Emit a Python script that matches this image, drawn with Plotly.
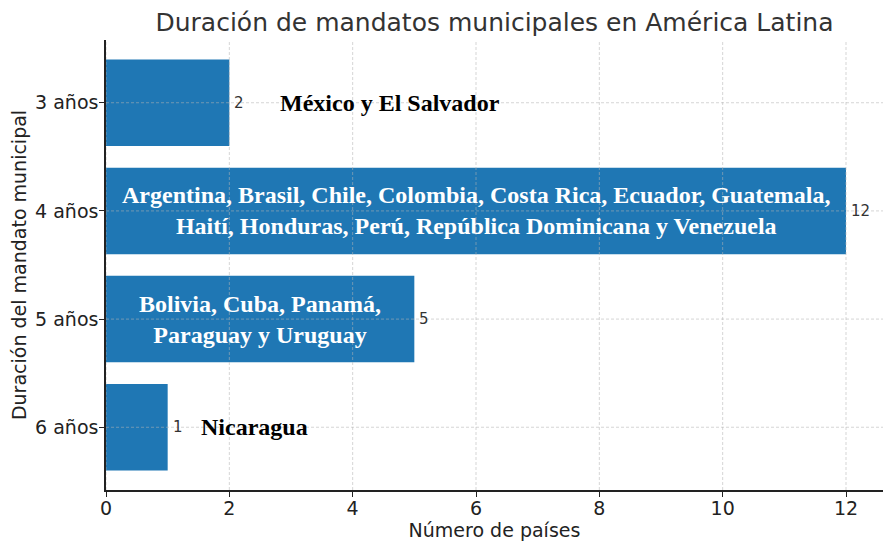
import plotly.graph_objects as go

# Datos: duración del mandato y número de países
duraciones = ['3 años', '4 años', '5 años', '6 años']
num_paises = [2, 12, 5, 1]
paises = [
    'México y El Salvador',
    'Argentina, Brasil, Chile, Colombia, Costa Rica, Ecuador, Guatemala,<br>'
    'Haití, Honduras, Perú, República Dominicana y Venezuela',
    'Bolivia, Cuba, Panamá,<br>Paraguay y Uruguay',
    'Nicaragua',
]
texto_dentro = [False, True, True, False]
pos_texto_fuera = [4.6, None, None, 2.4]  # centro del texto fuera de la barra
x_ticks = [0, 2, 4, 6, 8, 10, 12]

azul = '#1f77b4'
fuente_ejes = 'DejaVu Sans'
fuente_paises = 'Liberation Serif'

fig = go.Figure()
fig.add_trace(go.Bar(
    y=duraciones,
    x=num_paises,
    orientation='h',
    width=0.8,
    marker=dict(color=azul, line=dict(width=0)),
    hoverinfo='x+y',
))

annotations = []
for dur, n, txt, dentro, xpos in zip(duraciones, num_paises, paises, texto_dentro, pos_texto_fuera):
    # número al final de la barra
    annotations.append(dict(
        x=n, y=dur, text=str(n), showarrow=False, xanchor='left', yanchor='middle',
        xshift=3, font=dict(family=fuente_ejes, size=15, color='#333333'),
    ))
    if dentro:
        annotations.append(dict(
            x=n / 2, y=dur, text=f'<b>{txt}</b>', showarrow=False,
            xanchor='center', yanchor='middle',
            font=dict(family=fuente_paises, size=24, color='white'),
        ))
    else:
        annotations.append(dict(
            x=xpos, y=dur, text=f'<b>{txt}</b>', showarrow=False,
            xanchor='center', yanchor='middle',
            font=dict(family=fuente_paises, size=24, color='black'),
        ))

# cuadrícula discontinua por encima de las barras (como en matplotlib)
grid = dict(color='rgba(180,180,180,0.55)', width=1, dash='3px,2px')
shapes = []
for t in x_ticks:
    shapes.append(dict(type='line', xref='x', yref='paper', x0=t, x1=t, y0=0, y1=1,
                       line=grid, layer='above'))
for dur in duraciones:
    shapes.append(dict(type='line', xref='paper', yref='y', x0=0, x1=1, y0=dur, y1=dur,
                       line=grid, layer='above'))

# la página deja 8px de margen en el body
fig.update_layout(
    width=886,
    height=543,
    plot_bgcolor='white',
    paper_bgcolor='white',
    margin=dict(l=98, r=11, t=32, b=61),
    showlegend=False,
    title=dict(
        text='Duración de mandatos municipales en América Latina',
        xref='paper', x=0.5, xanchor='center', y=0.974, yanchor='middle',
        font=dict(family=fuente_ejes, size=25, color='#333333'),
    ),
    font=dict(family=fuente_ejes, color='#222222'),
    annotations=annotations,
    shapes=shapes,
    bargap=0.2,
)

fig.update_xaxes(
    range=[0, 12.6],
    tickvals=x_ticks,
    showgrid=False,
    zeroline=False,
    showline=True, linecolor='#222222', linewidth=1.5,
    ticks='outside', ticklen=5, tickcolor='#222222',
    ticklabelstandoff=-5,
    tickfont=dict(size=19, color='#222222'),
    title=dict(text='Número de países', font=dict(size=19, color='#222222'), standoff=6),
    automargin=False,
)
fig.update_yaxes(
    categoryorder='array', categoryarray=duraciones,
    range=[3.58, -0.58],
    showgrid=False,
    zeroline=False,
    showline=True, linecolor='#222222', linewidth=1.5,
    ticks='outside', ticklen=5, tickcolor='#222222',
    ticklabelstandoff=-3,
    tickfont=dict(size=19, color='#222222'),
    title=dict(text='Duración del mandato municipal', font=dict(size=19, color='#222222'), standoff=3),
    automargin=False,
)

fig.write_html('out.html')
